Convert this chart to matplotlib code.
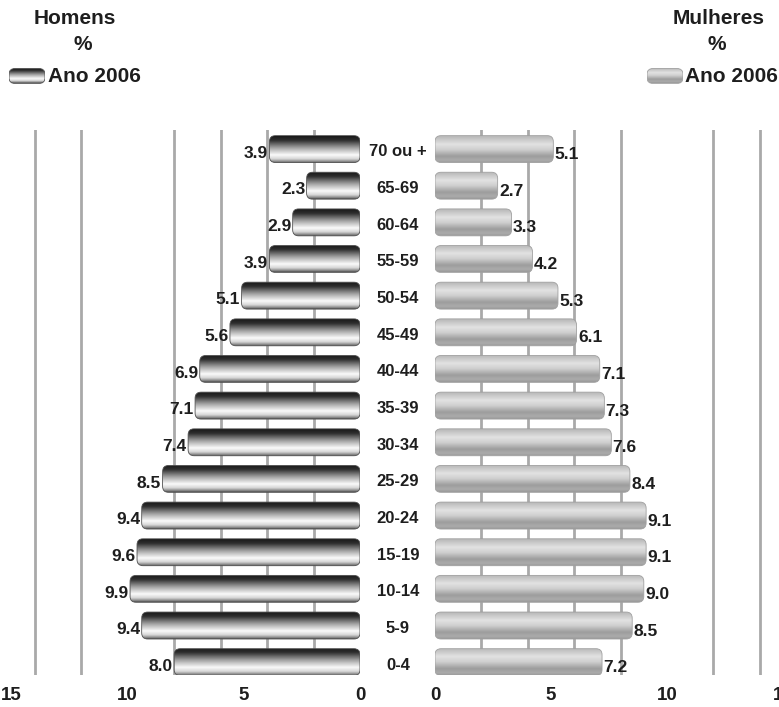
import numpy as np
import matplotlib
matplotlib.use("Agg")
import matplotlib.pyplot as plt
from matplotlib.colors import LinearSegmentedColormap
from matplotlib.patches import FancyBboxPatch

plt.rcParams['font.family'] = ['Liberation Sans', 'DejaVu Sans']
plt.rcParams['font.weight'] = 'bold'

faixas = ["0-4", "5-9", "10-14", "15-19", "20-24", "25-29", "30-34", "35-39",
          "40-44", "45-49", "50-54", "55-59", "60-64", "65-69", "70 ou +"]
homens = [8.0, 9.4, 9.9, 9.6, 9.4, 8.5, 7.4, 7.1, 6.9, 5.6, 5.1, 3.9, 2.9, 2.3, 3.9]
mulheres = [7.2, 8.5, 9.0, 9.1, 9.1, 8.4, 7.6, 7.3, 7.1, 6.1, 5.3, 4.2, 3.3, 2.7, 5.1]
ticks = [0, 5, 10, 15]

# gradientes (de cima para baixo)
cm_h = LinearSegmentedColormap.from_list("h", [
    (0.0, "#1a1a1a"), (0.15, "#2e2e2e"), (0.45, "#a8a8a8"), (0.7, "#fafafa"),
    (0.85, "#d8d8d8"), (0.95, "#8a8a8a"), (1.0, "#555555")])
cm_m = LinearSegmentedColormap.from_list("m", [
    (0.0, "#b8b8b8"), (0.3, "#e2e2e2"), (0.5, "#cfcfcf"), (0.75, "#9c9c9c"),
    (0.9, "#ababab"), (1.0, "#9a9a9a")])
grad = np.linspace(0, 1, 64).reshape(-1, 1)


def barra(ax, x0, x1, yc, h, cmap, edge, rx, asp):
    lo, hi = min(x0, x1), max(x0, x1)
    p = FancyBboxPatch((lo, yc - h / 2), hi - lo, h,
                       boxstyle=f"round,pad=0,rounding_size={rx}",
                       mutation_aspect=asp, facecolor="none",
                       edgecolor=edge, lw=0.6, zorder=3)
    ax.add_patch(p)
    im = ax.imshow(grad, cmap=cmap, vmin=0, vmax=1, aspect="auto",
                   extent=[lo, hi, yc - h / 2, yc + h / 2], origin="upper",
                   zorder=2, interpolation="bilinear")
    im.set_clip_path(p)


fig = plt.figure(figsize=(7.79, 7.07), dpi=100)
W, H = 779, 707
bot = (H - 675) / H
hgt = 545 / H
ax_l = fig.add_axes([0, bot, 360 / W, hgt])
ax_r = fig.add_axes([435 / W, bot, 348 / W, hgt])

ylim = (-0.35, 14.52)
h = 0.735
asp = (23.2 / 36.7)
cor = "#1e1e1e"

for ax in (ax_l, ax_r):
    ax.set_xticks(np.arange(2, 15, 2), minor=True)
    ax.grid(which="minor", axis="x", color="#a9a9a9", lw=2)
    ax.grid(which="major", visible=False)
    ax.set_axisbelow(True)
    ax.set_yticks([])
    ax.set_xticks(ticks)
    ax.set_xticklabels([str(t) for t in ticks])
    ax.tick_params(axis="x", which="both", length=0, pad=9, labelsize=13.5,
                   labelcolor=cor)
    for s in ax.spines.values():
        s.set_visible(False)

for i, v in enumerate(homens):
    barra(ax_l, 0, v, i, h, cm_h, "#505050", 0.26, asp)
    ax_l.annotate(f"{v:.1f}", (v, i), xytext=(-1, -3), textcoords="offset points",
                  ha="right", va="center", fontsize=12.5, fontweight="bold",
                  color=cor, zorder=5)
    ax_l.text(398 / 360, i - 0.08, faixas[i], transform=ax_l.get_yaxis_transform(),
              ha="center", va="center", fontsize=12, fontweight="bold",
              color=cor, clip_on=False)

for i, v in enumerate(mulheres):
    barra(ax_r, 0, v, i, h, cm_m, "#a0a0a0", 0.26, asp)
    ax_r.annotate(f"{v:.1f}", (v, i), xytext=(1, -4), textcoords="offset points",
                  ha="left", va="center", fontsize=12.5, fontweight="bold",
                  color=cor, zorder=5)

ax_l.set_xlim(15.5, 0)
ax_r.set_xlim(0, 15)
ax_l.set_ylim(*ylim)
ax_r.set_ylim(*ylim)

# titulos e legendas
fig.text(75 / W, 1 - 19 / H, "Homens", ha="center", va="center", fontsize=15,
         fontweight="bold", color=cor)
fig.text(83 / W, 1 - 45 / H, "%", ha="center", va="center", fontsize=15,
         fontweight="bold", color=cor)
fig.text(48 / W, 1 - 76 / H, "Ano 2006", ha="left", va="center", fontsize=15,
         fontweight="bold", color=cor)
fig.text(719 / W, 1 - 19 / H, "Mulheres", ha="center", va="center", fontsize=15,
         fontweight="bold", color=cor)
fig.text(717 / W, 1 - 45 / H, "%", ha="center", va="center", fontsize=15,
         fontweight="bold", color=cor)
fig.text(685 / W, 1 - 76 / H, "Ano 2006", ha="left", va="center", fontsize=15,
         fontweight="bold", color=cor)

for x0, cm, ed in ((9, cm_h, "#505050"), (647, cm_m, "#a0a0a0")):
    axi = fig.add_axes([x0 / W, 1 - 84 / H, 36 / W, 16 / H])
    axi.axis("off")
    barra(axi, 0, 36, 8, 15, cm, ed, 6, 1.0)
    axi.set_xlim(0, 36)
    axi.set_ylim(0, 16)

fig.savefig("out.png", dpi=100)
